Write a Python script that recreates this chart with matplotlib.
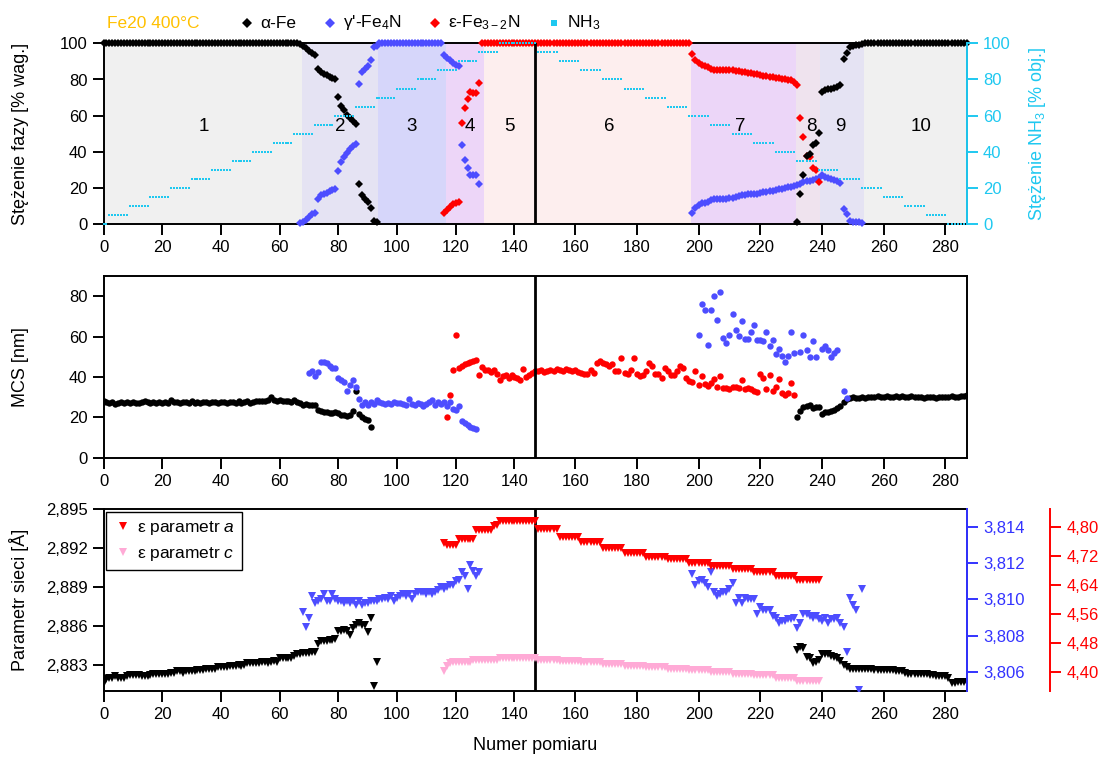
import numpy as np
import matplotlib
matplotlib.use("Agg")
import matplotlib.pyplot as plt
from matplotlib.ticker import FuncFormatter
from matplotlib.lines import Line2D

plt.rcParams['font.family'] = ['Liberation Sans', 'DejaVu Sans']
plt.rcParams['mathtext.fontset'] = 'custom'
plt.rcParams['mathtext.rm'] = 'Liberation Sans'
plt.rcParams['mathtext.it'] = 'Liberation Sans:italic'
plt.rcParams['font.size'] = 12
plt.rcParams['axes.linewidth'] = 1.4

# ---------------- data: phase content [% wag.] ----------------
alpha_wt_1 = [100] * 67 + [99.5, 98.5, 97.5, 96, 94.5, 93.5, 86, 84, 83, 82.5, 81.5, 81, 80.5,
                           70.5, 65.5, 63, 60.5, 58.5, 57, 55.5, 22.5, 16, 14, 12.5, 9, 2, 1.5]   # x 0..93
alpha_wt_2 = [1.5, 17, 27, 38, 39, 44, 45, 50.5, 73, 74, 74.5, 75, 75.5, 76, 77, 91.5, 94.5, 98,
              98.5, 99, 99, 99.5] + [100] * 34                                                   # x 232..287
gamma_wt_1 = [0.5, 1.5, 2.5, 4, 5.5, 6.5, 14, 16, 17, 17.5, 18.5, 19, 19.5, 29.5, 34.5, 37, 39.5,
              41.5, 43, 44.5, 77.5, 84, 86, 87.5, 91, 98, 98.5] + [100] * 22 + \
             [93.5, 92, 90.5, 89, 88, 87.5, 44, 35.5, 31, 27, 27.5, 27.5, 22]                    # x 67..128
gamma_wt_2 = [6, 9, 10.5, 11.5, 12, 12.5, 13.5, 14, 14, 14, 14, 14, 14.5, 14.5, 15, 15.5, 16, 16,
              16.5, 16.5, 17, 17, 17.5, 18, 18, 18.5, 18.5, 19, 19.5, 19.5, 20, 20.5, 20.5, 21, 21.5,
              22.5, 23.5, 24, 24, 24.5, 25, 25.5, 27, 26, 25.5, 25, 24.5, 24, 23, 8.5, 5.5, 2, 1.5,
              1, 1, 0.5]                                                                         # x 198..253
eps_wt = [6.5, 8, 9.5, 11, 12, 12.5, 56, 64.5, 69, 73, 72.5, 72.5, 78] + [100] * 69 + \
         [94, 90.5, 89, 88, 87.5, 87, 86, 85.5, 85, 85, 85.5, 85.5, 85, 85, 84.5, 84.5, 84, 84,
          83.5, 83.5, 83, 83, 82.5, 82, 82, 81.5, 81.5, 81, 81, 80.5, 80, 79.5, 79.5, 78.5, 77] + \
         [59, 48.5, 38, 37, 31, 30, 23.5]                                                        # x 116..239

# NH3 steps [% obj.]
nh3_first = [0, 2, 9, 16, 23, 30, 37, 44, 51, 58, 65, 72, 79, 86, 93, 100, 107, 114, 121, 128, 135,
             148, 155, 162, 169, 176, 183, 190, 197, 204, 211, 218, 225, 232, 239, 246, 253, 260,
             267, 274, 281]
nh3_last = [1, 8, 15, 22, 29, 36, 43, 50, 57, 64, 71, 78, 85, 92, 99, 106, 113, 120, 127, 134, 147,
            154, 161, 168, 175, 182, 189, 196, 203, 210, 217, 224, 231, 238, 245, 252, 259, 266,
            273, 280, 287]
nh3_level = [0, 5, 10, 15, 20, 25, 30, 35, 40, 45, 50, 55, 60, 65, 70, 75, 80, 85, 90, 95, 100,
             95, 90, 85, 80, 75, 70, 65, 60, 55, 50, 45, 40, 35, 30, 25, 20, 15, 10, 5, 0]

# ---------------- data: MCS [nm] ----------------
mcs_alpha_1 = [28, 27.5, 27, 27.5, 26.5, 27, 27.5, 27, 27.5, 27,
               27.5, 27, 27, 27.5, 28, 27.5, 27, 27.5, 27, 27.5,
               27, 27.5, 27, 28.5, 27.5, 27.5, 27, 27.5, 27.5, 27,
               28, 27, 27.5, 27, 27.5, 27.5, 27, 27.5, 27.5, 27,
               27.5, 27.5, 27, 27.5, 27.5, 27, 28, 27, 27.5, 28,
               27, 27.5, 28, 28, 28, 28, 28.5, 30, 28.5, 28,
               28.5, 28, 28, 28, 27.5, 28.5, 27.5, 27, 26, 26.5,
               26, 26, 26, 23.5, 23, 22.5, 22.5, 22, 22, 22.5,
               22, 21, 21, 20.5, 21, 23, 33, 21.5, 20, 19,
               18.5, 15]                                                      # x 0..91
mcs_alpha_2 = [20, 23, 25, 25.5, 26, 24.5, 25, 25, 21.5, 22.5,
               22.5, 23, 23.5, 24.5, 25.5, 27.5, 29, 29.5, 30, 29.5,
               29.5, 30, 29.5, 30, 30, 30, 30.5, 30, 30, 30.5,
               30, 30, 30.5, 30, 30.5, 30, 30, 30.5, 30, 30,
               30, 29.5, 30, 30, 30, 29.5, 30, 30, 30, 30,
               30.5, 30, 30, 30.5, 30.5, 31]                                  # x 232..287
mcs_gamma_1 = [42, 43, 40.5, 42.5, 47.5, 47.5, 47, 45.5, 44.5, 44.5,
               39.5, 38.5, 37.5, 33, 36, 38.5, 35, 29, 26, 27.5,
               26, 27.5, 26.5, 28.5, 27.5, 27, 26.5, 27, 26.5, 27.5,
               27, 27, 26.5, 26, 29, 26.5, 26, 27, 26.5, 25.5,
               26.5, 27.5, 28.5, 26, 27.5, 26.5, 27.5, 25.5, 27.5, 24,
               23.5, 25.5, 18, 17, 16, 15, 14.5, 14]                          # x 70..127
mcs_gamma_2 = [61, 76, 73, 56, 73, 80, 68, 82, 59.5, 57,
               61, 71, 63.5, 60.5, 67.5, 59, 59, 62.5, 65.5, 58.5,
               58.5, 58, 62.5, 55.5, 58.5, 51.5, 54, 50.5, 47.5, 50.5,
               62.5, 52, np.nan, 52.5, 61, 53.5, 50, 58, 50, np.nan,
               54, 55.5, 53.5, 50, 52, 53.5, np.nan, 33, 29.5]                # x 200..248
mcs_eps = [20, 31, 43.5, 61, 44.5, 45.5, 46.5, 47, 47.5, 48,
           48.5, 41, 45, 43.5, 43.5, 42.5, 43.5, 41.5, 38.5, 40.5,
           41, 39.5, 41, 40, 39.5, 38.5, 44, 40, 41, 42,
           43, 43, 43.5, 42.5, 43, 43.5, 43, 44, 43.5, 43,
           44, 43.5, 43, 43.5, 42.5, 42, 41.5, 41.5, 43.5, 42,
           47, 48, 47, 46.5, 45.5, 46.5, 43, 43, 49.5, 42,
           41.5, 43.5, 49.5, 41.5, 40.5, 41, 43, 47, 45.5, 41.5,
           41.5, 39.5, 44.5, 43, 41, 41, 43, 45.5, 44.5, 39.5,
           38, 37.5, 43, 36, 40.5, 36.5, 35.5, 37, 39, 35,
           40.5, 34.5, 34.5, 34, 35, 35, 34.5, 38.5, 34, 34.5,
           34, 33, 32.5, 41.5, 39.5, 34, 41, 33, 35, 39,
           32, 31, 32, 37, 31]                                                # x 117..231

# ---------------- data: lattice parameters [A] ----------------
lat_alpha_1 = [2.8816, 2.8819, 2.8820, 2.8820, 2.8821, 2.8820, 2.8820, 2.8820, 2.8821, 2.8822,
               2.8822, 2.8822, 2.8822, 2.8821, 2.8821, 2.8821, 2.8822, 2.8823, 2.8823, 2.8823,
               2.8823, 2.8823, 2.8823, 2.8824, 2.8824, 2.8825, 2.8825, 2.8824, 2.8825, 2.8825,
               2.8825, 2.8825, 2.8826, 2.8826, 2.8826, 2.8827, 2.8827, 2.8827, 2.8827, 2.8828,
               2.8828, 2.8828, 2.8828, 2.8829, 2.8829, 2.8829, 2.8830, 2.8829, 2.8830, 2.8831,
               2.8831, 2.8831, 2.8831, 2.8831, 2.8832, 2.8832, 2.8831, 2.8832, 2.8833, 2.8832,
               2.8835, 2.8835, 2.8835, 2.8835, 2.8835, 2.8837, 2.8838, 2.8838, 2.8839, 2.8839,
               2.8839, 2.8840, 2.8840, 2.8846, 2.8848, 2.8848, 2.8848, 2.8849, 2.8849, 2.8850,
               2.8856, 2.8856, 2.8857, 2.8856, 2.8853, 2.8858, 2.8861, 2.8862, 2.8861, 2.8861,
               2.8855, 2.8866, 2.8814, 2.8832]                                # x 0..93
lat_alpha_2 = [2.8841, 2.8844, 2.8843, 2.8836, 2.8835, 2.8831, 2.8832, 2.8834, 2.8838, 2.8838,
               2.8838, 2.8837, 2.8836, 2.8835, 2.8833, 2.8830, 2.8828, 2.8827, 2.8827, 2.8827,
               2.8827, 2.8827, 2.8827, 2.8827, 2.8827, 2.8826, 2.8826, 2.8826, 2.8826, 2.8826,
               2.8826, 2.8826, 2.8825, 2.8825, 2.8825, 2.8824, 2.8823, 2.8823, 2.8823, 2.8823,
               2.8823, 2.8823, 2.8823, 2.8822, 2.8822, 2.8821, 2.8821, 2.8821, 2.8821, 2.8820,
               2.8816, 2.8816, 2.8817, 2.8817, 2.8817, 2.8817]                # x 232..287
lat_gamma_1 = [3.8093, 3.8085, 3.8090, 3.8102, 3.8098, 3.8099, 3.8100, 3.8103, 3.8099, 3.8099,
               3.8103, 3.8100, 3.8099, 3.8099, 3.8098, 3.8099, 3.8098, 3.8099, 3.8097, 3.8099,
               3.8097, 3.8098, 3.8098, 3.8099, 3.8099, 3.8099, 3.8100, 3.8100, 3.8101, 3.8100,
               3.8102, 3.8099, 3.8101, 3.8102, 3.8103, 3.8102, 3.8103, 3.8100, 3.8103, 3.8104,
               3.8104, 3.8104, 3.8103, 3.8104, 3.8103, 3.8104, 3.8105, 3.8107, 3.8106, 3.8107,
               3.8108, 3.8108, 3.8110, 3.8111, 3.8115, 3.8113, 3.8106, 3.8119, 3.8116, 3.8113,
               3.8115]                                                        # x 68..128
lat_gamma_2 = [3.8114, 3.8108, 3.8110, 3.8111, 3.8109, 3.8107, 3.8115, 3.8104, 3.8102, 3.8103,
               3.8104, 3.8104, 3.8106, 3.8109, 3.8098, 3.8101, 3.8098, 3.8101, 3.8100, 3.8100,
               3.8100, 3.8092, 3.8096, 3.8094, 3.8094, 3.8094, 3.8091, 3.8090, 3.8087, 3.8088,
               3.8088, 3.8089, 3.8089, 3.8090, 3.8084, 3.8087, 3.8092, 3.8092, 3.8091, 3.8090,
               3.8091, 3.8089, 3.8088, 3.8090, 3.8087, 3.8089, 3.8089, 3.8090, 3.8087, 3.8085,
               3.8071, 3.8101, 3.8097, 3.8094, 3.8050, 3.8106]                # x 198..253
lat_eps_a = ([4.756, 4.751, 4.750, 4.750, 4.752] + [4.767] * 6 + [4.793] * 6 + [4.803, 4.806] +
             [4.816] * 13 + [4.795] * 7 + [4.774] * 7 + [4.758] * 7 + [4.742] * 7 + [4.730] * 7 +
             [4.719] * 7 + [4.712] * 7 + [4.7025] * 7 + [4.694] * 7 + [4.685] * 7 + [4.676] * 7 +
             [4.666] * 7 + [4.653] * 8)                                       # x 116..239
lat_eps_c = ([4.402, 4.416, 4.425] + [4.429] * 7 + [4.434] * 9 + [4.4386] * 13 + [4.434] * 7 +
             [4.431] * 7 + [4.427] * 7 + [4.423] * 7 + [4.418] * 7 + [4.414] * 7 + [4.409] * 7 +
             [4.405] * 7 + [4.400] * 7 + [4.395] * 7 + [4.391] * 7 + [4.383] * 7 + [4.376] * 8)  # x 116..239

zone_names = ['1', '2', '3', '4', '5', '6', '7', '8', '9', '10']

# ---------------- styling ----------------
BLACK, BLUE, RED, CYAN, PINK = 'black', '#4d4dff', '#ff0000', '#1ec8f0', '#ffaad6'
BLUE_AX = '#3333ff'
zone_edges = [0, 67.5, 93.5, 116.5, 129.5, 197.5, 231.5, 239.5, 253.5, 287]
zone_colors = ['#f0f0f0', '#e5e3f3', '#d6d6fa', '#edd6f8', '#fdeeee', '#ecd6f8', '#efe3ee',
               '#e5e3f3', '#f0f0f0']
zone_label_x = [34, 80.5, 105, 124.8, 138.4, 171, 213.4, 236.4, 246.1, 272]

BREAK, STRETCH = 147, 1.051
TICK_FS, LABEL_FS = 12, 13


def fwd(x):
    x = np.asarray(x, dtype=float)
    return np.where(x > BREAK, BREAK + (x - BREAK) * STRETCH, x)


def inv(x):
    x = np.asarray(x, dtype=float)
    return np.where(x > BREAK, BREAK + (x - BREAK) / STRETCH, x)


def xs(start, vals):
    return np.arange(start, start + len(vals))


def comma(fmt):
    return FuncFormatter(lambda v, p: (fmt % v).replace('.', ','))


W, H = 1118, 757


def rect(x0, y0, x1, y1):
    return [x0 / W, 1 - y1 / H, (x1 - x0) / W, (y1 - y0) / H]


fig = plt.figure(figsize=(W / 100, H / 100), dpi=100)
ax1 = fig.add_axes(rect(103.5, 43.3, 967, 224.3))
ax2 = fig.add_axes(rect(103.5, 276, 967, 457.7))
ax3 = fig.add_axes(rect(103.5, 509, 967, 690.7))

for ax in (ax1, ax2, ax3):
    ax.set_xscale('function', functions=(fwd, inv))
    ax.set_xlim(0, 287)
    ax.set_xticks(range(0, 281, 20))
    ax.tick_params(direction='out', length=8, width=1.4, labelsize=TICK_FS)
    ax.axvline(BREAK, color='black', lw=2, zorder=5)

# ---------------- top panel ----------------
for i in range(len(zone_colors)):
    ax1.axvspan(zone_edges[i], zone_edges[i + 1], color=zone_colors[i], lw=0, zorder=0)
for name, zx in zip(zone_names, zone_label_x):
    ax1.text(zx, 54, name, ha='center', va='center', fontsize=13.5)

mk = dict(ls='none', marker='D', ms=3.6, mew=0, clip_on=False, zorder=3)
ax1.plot(xs(67, gamma_wt_1), gamma_wt_1, color=BLUE, **mk)
ax1.plot(xs(198, gamma_wt_2), gamma_wt_2, color=BLUE, **mk)
ax1.plot(xs(116, eps_wt), eps_wt, color=RED, **mk)
ax1.plot(xs(0, alpha_wt_1), alpha_wt_1, color=BLACK, **mk)
ax1.plot(xs(232, alpha_wt_2), alpha_wt_2, color=BLACK, **mk)
ax1.set_ylim(0, 100)
ax1.set_yticks(range(0, 101, 20))
ax1.set_ylabel('Stężenie fazy [% wag.]', fontsize=LABEL_FS)
ax1.yaxis.set_label_coords(-0.086, 0.5)

ax1r = ax1.twinx()
nh3_x = np.concatenate([np.arange(a, b + 1) for a, b in zip(nh3_first, nh3_last)])
nh3_y = np.concatenate([np.full(b - a + 1, lv) for a, b, lv in zip(nh3_first, nh3_last, nh3_level)])
ax1r.plot(nh3_x, nh3_y, ls='none', marker='s', ms=2.0, mew=0, color=CYAN, clip_on=False)
ax1r.set_ylim(0, 100)
ax1r.set_yticks(range(0, 101, 20))
ax1r.tick_params(axis='y', direction='out', length=8, width=1.4, colors=CYAN, labelsize=TICK_FS)
ax1r.spines['right'].set_color(CYAN)
for s in ('top', 'bottom', 'left'):
    ax1r.spines[s].set_visible(False)
ax1r.set_ylabel('Stężenie NH$_3$ [% obj.]', color=CYAN, fontsize=LABEL_FS)
ax1r.yaxis.set_label_coords(1.069, 0.5)

# legend above the top panel
yl = 1 - 23 / H
fig.text(106.7 / W, yl, 'Fe20 400°C', color='#ffc000', ha='left', va='center', fontsize=12.5)
leg_items = [(247, 'α-Fe', BLACK, 'D'), (330, "γ'-Fe$_4$N", BLUE, 'D'),
             (435, 'ε-Fe$_\\mathregular{3-2}$N', RED, 'D'), (554, 'NH$_3$', CYAN, 's')]
for mx, lab, col, m in leg_items:
    fig.add_artist(Line2D([mx / W], [yl], marker=m, ms=5 if m == 'D' else 4.5, mew=0, color=col,
                          ls='none'))
    fig.text((mx + 13) / W, yl, lab, ha='left', va='center', fontsize=12.5)

# ---------------- middle panel ----------------
mk = dict(ls='none', marker='o', ms=4.6, mew=0, zorder=3)
ax2.plot(xs(0, mcs_alpha_1), mcs_alpha_1, color=BLACK, **mk)
ax2.plot(xs(232, mcs_alpha_2), mcs_alpha_2, color=BLACK, **mk)
ax2.plot(xs(70, mcs_gamma_1), mcs_gamma_1, color=BLUE, **mk)
ax2.plot(xs(200, mcs_gamma_2), mcs_gamma_2, color=BLUE, **mk)
ax2.plot(xs(117, mcs_eps), mcs_eps, color=RED, **mk)
ax2.set_ylim(0, 90)
ax2.set_yticks(range(0, 81, 20))
ax2.set_ylabel('MCS [nm]', fontsize=LABEL_FS)
ax2.yaxis.set_label_coords(-0.086, 0.5)

# ---------------- bottom panel ----------------
mk = dict(ls='none', marker='v', ms=5.2, mew=0, zorder=3)
ax3.plot(xs(0, lat_alpha_1), lat_alpha_1, color=BLACK, **mk)
ax3.plot(xs(232, lat_alpha_2), lat_alpha_2, color=BLACK, **mk)
ax3.set_ylim(2.8810, 2.895)
ax3.set_yticks([2.883, 2.886, 2.889, 2.892, 2.895])
ax3.yaxis.set_major_formatter(comma('%.3f'))
ax3.set_ylabel('Parametr sieci [Å]', fontsize=LABEL_FS)
ax3.yaxis.set_label_coords(-0.086, 0.5)
ax3.set_xlabel('Numer pomiaru', fontsize=LABEL_FS)
ax3.xaxis.set_label_coords(0.5, -0.255)

ax3b = ax3.twinx()
ax3b.plot(xs(68, lat_gamma_1), lat_gamma_1, color=BLUE, **mk)
ax3b.plot(xs(198, lat_gamma_2), lat_gamma_2, color=BLUE, **mk)
ax3b.set_ylim(3.80495, 3.81501)
ax3b.set_yticks([3.806, 3.808, 3.810, 3.812, 3.814])
ax3b.yaxis.set_major_formatter(comma('%.3f'))
ax3b.tick_params(axis='y', direction='out', length=8, width=1.4, colors=BLUE_AX, labelsize=TICK_FS)
ax3b.spines['right'].set_color(BLUE_AX)
for s in ('top', 'bottom', 'left'):
    ax3b.spines[s].set_visible(False)

ax3c = ax3.twinx()
ax3c.plot(xs(116, lat_eps_c), lat_eps_c, color=PINK, **mk)
ax3c.plot(xs(116, lat_eps_a), lat_eps_a, color=RED, **mk)
ax3c.set_ylim(4.3484, 4.8505)
ax3c.set_yticks([4.40, 4.48, 4.56, 4.64, 4.72, 4.80])
ax3c.yaxis.set_major_formatter(comma('%.2f'))
ax3c.spines['right'].set_position(('outward', 60))
ax3c.spines['right'].set_color(RED)
ax3c.tick_params(axis='y', direction='out', length=8, width=1.4, colors=RED, labelsize=TICK_FS)
for s in ('top', 'bottom', 'left'):
    ax3c.spines[s].set_visible(False)

handles = [Line2D([], [], ls='none', marker='v', ms=5.2, mew=0, color=RED, label='ε parametr $a$'),
           Line2D([], [], ls='none', marker='v', ms=5.2, mew=0, color=PINK, label='ε parametr $c$')]
leg = ax3c.legend(handles=handles, loc='upper left', bbox_to_anchor=(0.003, 0.985), fontsize=12.5,
                  frameon=True, fancybox=False, edgecolor='black', framealpha=1,
                  borderaxespad=0, handletextpad=0.2, handlelength=1.2, borderpad=0.4,
                  labelspacing=0.5)
leg.get_frame().set_linewidth(1.0)

fig.savefig('out.png', dpi=100)
